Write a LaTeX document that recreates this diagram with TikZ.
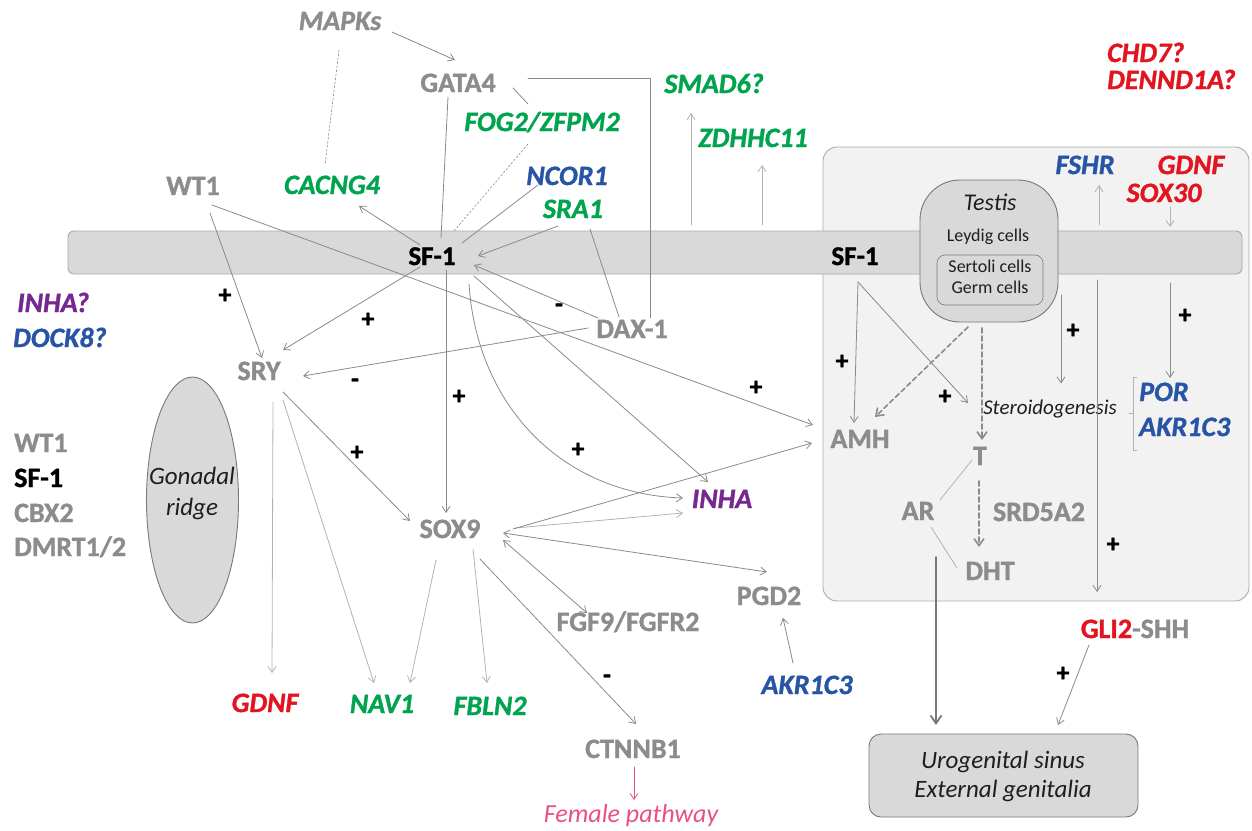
\documentclass[tikz,border=0pt]{standalone}
\usepackage{fontspec}
\setmainfont{Carlito}[BoldFont={Carlito Bold}, ItalicFont={Carlito Italic}, BoldItalicFont={Carlito Bold Italic}, BoldFeatures={FakeBold=1.2}, BoldItalicFeatures={FakeBold=1.2}]
\usetikzlibrary{arrows.meta,calc,shapes.geometric}

\definecolor{genegray}{RGB}{140,140,140}
\definecolor{genegreen}{RGB}{0,163,78}
\definecolor{geneblue}{RGB}{40,84,166}
\definecolor{genered}{RGB}{226,20,32}
\definecolor{genepurple}{RGB}{118,40,145}
\definecolor{genepink}{RGB}{232,82,128}
\definecolor{linegray}{RGB}{138,138,138}
\definecolor{linelight}{RGB}{178,178,178}
\definecolor{barfill}{RGB}{217,217,217}
\definecolor{boxfill}{RGB}{242,242,242}
\definecolor{boxline}{RGB}{170,170,170}
\definecolor{darkline}{RGB}{120,120,120}
\definecolor{notetext}{RGB}{30,30,30}

\newcommand{\genefont}{\fontsize{28}{30}\selectfont\bfseries}
\newcommand{\igenefont}{\fontsize{28}{30}\selectfont\bfseries\itshape}

\begin{document}
\begin{tikzpicture}[x=1pt, y=-1pt, line cap=round, line join=round,
  gene/.style={font=\genefont, text=genegray, inner sep=0pt, text height=18pt, text depth=0pt},
  igene/.style={gene, font=\igenefont},
  note/.style={font=\fontsize{#1}{#1}\selectfont\itshape, text=notetext, inner sep=0pt, anchor=base},
  plain/.style={font=\fontsize{18}{18}\selectfont, text=notetext, inner sep=0pt, anchor=base},
  sign/.style={font=\fontsize{26}{26}\selectfont\bfseries, inner sep=0pt},
  link/.style={draw=linegray, line width=0.8pt},
  arr/.style={link, -{Straight Barb[length=6pt,width=8pt]}},
  farr/.style={arr, draw=linelight},
  dbl/.style={link, {Straight Barb[length=6pt,width=8pt]}-{Straight Barb[length=6pt,width=8pt]}},
  dotline/.style={link, line width=0.6pt, dash pattern=on 2pt off 2pt},
  dasharr/.style={link, line width=1.6pt, dash pattern=on 5pt off 3pt, -{Straight Barb[length=7pt,width=10pt]}},
  thickarr/.style={link, draw=darkline, line width=1.8pt, -{Straight Barb[length=8pt,width=11pt]}},
  cellbox/.style={draw=darkline, fill=barfill, line width=0.9pt}]
  \useasboundingbox (0,0) rectangle (1252,830);

  % testis region and SF-1 band
  \draw[draw=boxline, fill=boxfill, line width=0.9pt, rounded corners=14pt] (823,147) rectangle (1249,601);
  \draw[draw=boxline, fill=barfill, line width=0.9pt, rounded corners=6pt] (68,231) rectangle (1242,274);
  \node[cellbox, rounded corners=40pt, minimum width=138pt, minimum height=142pt] (testis) at (989,251) {};
  \node[cellbox, line width=0.6pt, rounded corners=8pt, minimum width=106pt, minimum height=50pt] (cells) at (990,280) {};
  \node[note=24] (testislbl) at (990,210) {Testis};
  \node[plain] (leydig) at (988,241) {Leydig cells};
  \node[plain] (sertoli) at (990,272) {Sertoli cells};
  \node[plain] (germ) at (990,293) {Germ cells};

  \node[ellipse, cellbox, minimum width=92pt, minimum height=246pt, inner sep=0pt] (ridge) at (192.5,500) {};
  \node[note=25] at (192,484) {Gonadal};
  \node[note=25] at (192,515) {ridge};

  \node[cellbox, rounded corners=12pt, minimum width=269pt, minimum height=83pt] (uro) at (1003.5,775.5) {};
  \node[note=25] at (1003,768) {Urogenital sinus};
  \node[note=25] at (1003,797) {External genitalia};

  % genes
  \node[igene] (mapks) at (340,21) {MAPKs};
  \node[gene] (gata4) at (458,83) {GATA4};
  \node[igene, text=genegreen] (fog2) at (542,122) {FOG2/ZFPM2};
  \node[igene, text=genegreen] (smad6) at (714,84) {SMAD6?};
  \node[igene, text=genegreen] (zdhhc11) at (753,138) {ZDHHC11};
  \node[igene, text=genered, anchor=west] (chd7) at (1107,53) {CHD7?};
  \node[igene, text=genered, anchor=west] (dennd1a) at (1107,80) {DENND1A?};
  \node[gene] (wt1) at (193,186) {WT1};
  \node[igene, text=genegreen] (cacng4) at (332,185) {CACNG4};
  \node[igene, text=geneblue] (ncor1) at (567,176) {NCOR1};
  \node[igene, text=genegreen] (sra1) at (573,209) {SRA1};
  \node[igene, text=geneblue] (fshr) at (1085,165) {FSHR};
  \node[igene, text=genered] (gdnftop) at (1191,165) {GDNF};
  \node[igene, text=genered] (sox30) at (1164,193) {SOX30};
  \node[gene, text=black, font=\fontsize{27}{30}\selectfont\bfseries] (sfl) at (432,256) {SF-1};
  \node[gene, text=black, font=\fontsize{27}{30}\selectfont\bfseries] (sfr) at (855,256) {SF-1};

  \node[igene, text=genepurple, anchor=west] (inhaq) at (17,303) {INHA?};
  \node[igene, text=geneblue, anchor=west] (dock8) at (13,338) {DOCK8?};
  \node[gene, anchor=west] (wt1l) at (14,443) {WT1};
  \node[gene, text=black, anchor=west] (sf1l) at (14,478) {SF-1};
  \node[gene, anchor=west] (cbx2) at (14,513) {CBX2};
  \node[gene, anchor=west] (dmrt) at (14,547) {DMRT1/2};

  \node[gene] (sry) at (259,371) {SRY};
  \node[gene] (dax1) at (632,329) {DAX-1};
  \node[gene] (sox9) at (450,529) {SOX9};
  \node[igene, text=genepurple] (inha) at (722,499) {INHA};
  \node[gene] (amh) at (860,439) {AMH};
  \node[gene] (tT) at (980,456) {T};
  \node[note=21] (steroid) at (1050,414) {Steroidogenesis};
  \node[igene, text=geneblue, anchor=west] (por) at (1139,392) {POR};
  \node[igene, text=geneblue, anchor=west] (akrr) at (1139,427) {AKR1C3};
  \node[gene] (ar) at (918,511) {AR};
  \node[gene] (srd5a2) at (1039,512) {SRD5A2};
  \node[gene] (dht) at (990,571) {DHT};
  \node[gene] (pgd2) at (769,596) {PGD2};
  \node[gene] (fgf9) at (628,622) {FGF9/FGFR2};
  \node[igene, text=geneblue] (akrb) at (807,685) {AKR1C3};
  \node[gene] (gli2) at (1135,629) {\textcolor{genered}{GLI2}-SHH};
  \node[igene, text=genered] (gdnf) at (265,703) {GDNF};
  \node[igene, text=genegreen] (nav1) at (382,704) {NAV1};
  \node[igene, text=genegreen] (fbln2) at (490,706) {FBLN2};
  \node[gene] (ctnnb1) at (633,749) {CTNNB1};
  \node[note=26, text=genepink] (female) at (631,822) {Female pathway};

  % upstream of SF-1
  \draw[arr] ($(mapks)+(52,11)$) -- ($(gata4)+(-3,-23)$);
  \draw[dotline] ($(mapks)+(-1,29)$) -- ($(cacng4)+(-7,-20)$);
  \draw[link] ($(gata4)+(-10,14)$) -- ($(sfl)+(9,-18)$);
  \draw[link] ($(gata4)+(70,-5)$) -| ($(dax1)+(18,-11)$);
  \draw[link] ($(gata4)+(55,5)$) -- ($(fog2)+(-14,-18)$);
  \draw[dotline] ($(fog2)+(-14,22)$) -- ($(sfl)+(22,-25)$);
  \draw[link] ($(ncor1)+(-29,9)$) -- ($(sfl)+(30,-13)$);
  \draw[arr] ($(sra1)+(-15,17)$) -- ($(sfl)+(46,0)$);
  \draw[link] ($(sra1)+(17,20)$) -- ($(dax1)+(-13,-12)$);
  \draw[arr] ($(sfl)+(-12,-11)$) -- ($(cacng4)+(27,21)$);
  \draw[arr, draw=linelight] ($(sfl)+(259,-31)$) -- ($(smad6)+(-23,29)$);
  \draw[arr, draw=linelight] ($(sfl)+(330,-31)$) -- ($(zdhhc11)+(9,27)$);

  % left network
  \draw[arr] ($(wt1)+(19,19)$) -- ($(amh)+(-47,-14)$);
  \draw[arr] ($(wt1)+(17,27)$) -- ($(sry)+(3,-13)$);
  \draw[arr] ($(sfl)+(-12,11)$) -- ($(sry)+(24,-21)$);
  \draw[arr] ($(dax1)+(-44,-1)$) -- ($(sry)+(44,5)$);
  \draw[arr] ($(sfl)+(14,14)$) -- ($(sox9)+(-4,-16)$);
  \draw[arr] ($(dax1)+(-34,-11)$) -- ($(sfl)+(42,9)$);
  \draw[arr] ($(sfl)+(42,20)$) -- ($(inha)+(-14,-17)$);
  \draw[arr] ($(sfl)+(37,28)$) .. controls ($(sfl)+(45,150)$) and ($(inha)+(-160,-5)$) .. ($(inha)+(-39,-1)$);
  \draw[arr] ($(sry)+(24,21)$) -- ($(sox9)+(-40,-8)$);
  \draw[farr] ($(sox9)+(65,-1)$) -- ($(inha)+(-39,14)$);
  \draw[arr] ($(sox9)+(63,0)$) -- ($(amh)+(-48,4)$);
  \draw[dbl] ($(sox9)+(53,4)$) -- ($(pgd2)+(-2,-24)$);
  \draw[dbl] ($(sox9)+(53,11)$) -- ($(fgf9)+(-41,-9)$);
  \draw[arr] ($(sox9)+(30,30)$) -- ($(ctnnb1)+(3,-25)$);
  \draw[farr] ($(sry)+(14,31)$) -- ($(gdnf)+(7,-30)$);
  \draw[farr] ($(sry)+(24,29)$) -- ($(nav1)+(-8,-21)$);
  \draw[farr] ($(sox9)+(-14,31)$) -- ($(nav1)+(28,-21)$);
  \draw[farr] ($(sox9)+(23,20)$) -- ($(fbln2)+(-3,-23)$);
  \draw[arr, draw=genepink] ($(ctnnb1)+(1,18)$) -- ($(female)+(3,-15)$);
  \draw[arr] ($(akrb)+(-14,-22)$) -- ($(pgd2)+(14,22)$);

  % testis side
  \draw[arr] ($(sfr)+(3,26)$) -- ($(amh)+(-6,-16)$);
  \draw[arr] ($(sfr)+(3,26)$) -- ($(tT)+(-12,-53)$);
  \draw[dasharr] ($(testis)+(-21,76)$) -- ($(amh)+(15,-22)$);
  \draw[dasharr] ($(testis)+(-7,77)$) -- ($(tT)+(2,-16)$);
  \draw[dasharr] ($(tT)+(-1,25)$) -- ($(dht)+(-11,-24)$);
  \draw[link, draw=linelight] ($(tT)+(-8,4)$) -- ($(ar)+(22,-11)$);
  \draw[link, draw=linelight] ($(ar)+(13,16)$) -- ($(dht)+(-33,-3)$);
  \draw[thickarr] ($(ar)+(18,46)$) -- ($(uro)+(-67.5,-50.5)$);
  \draw[arr] ($(testis)+(72,44)$) -- ($(steroid)+(11,-25)$);
  \draw[arr] ($(sfr)+(242,24)$) -- ($(gli2)+(-38,-37)$);
  \draw[arr] ($(sfr)+(315,27)$) -- ($(por.west)+(31,-14)$);
  \draw[arr, draw=linelight] ($(sfr)+(244,-31)$) -- ($(fshr)+(14,20)$);
  \draw[arr, draw=linelight] ($(sox30)+(6,14)$) -- ($(sfr)+(315,-29)$);
  \draw[arr] ($(gli2)+(-46,16)$) -- ($(uro)+(54.5,-50.5)$);
  \draw[link, draw=linelight, line width=0.6pt] (1137,377) -- (1133,377) -- (1133,450) -- (1137,450) (1133,413) -- (1129,413);

  % signs
  \foreach \px/\py in {225/296, 368/320, 459/397, 357/453, 578/450, 756/388, 842/362, 945/397, 1073/331, 1185/316, 1113/545, 1063/674}
    \node[sign] at (\px,\py) {+};
  \foreach \px/\py in {355/383, 559/308, 607/679}
    \node[sign] at (\px,\py) {-};
\end{tikzpicture}
\end{document}
